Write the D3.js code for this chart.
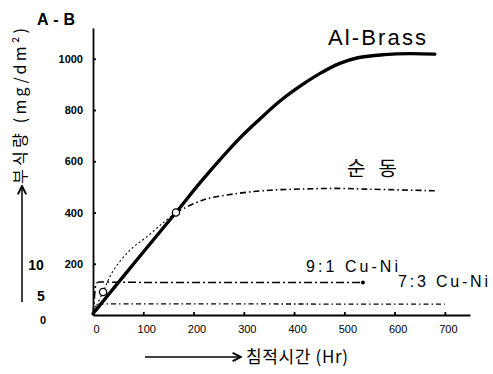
<!DOCTYPE html>
<html><head><meta charset="utf-8">
<script src="https://cdn.jsdelivr.net/npm/d3@7"></script>
<style>body{margin:0;background:#fff}svg{display:block}</style>
</head><body>
<script>
// ---- data ----
const xTicks = [0,100,200,300,400,500,600,700];
const yTicks = [200,400,600,800,1000];
const y2Ticks = [0,5,10];
// Al-Brass: [hours, mg/dm2]
const alBrass = [[0,5],[14,39],[83,205],[165,400],[219,530],[292,690],[332,765],[372,835],[412,893],[451,942],[491,982],[527,1004],[580,1016],[630,1020],[680,1018]];
// 순동 (pure copper): [hours, mg/dm2]
const pureCu = [[0,5],[20,90],[40,172],[74,254],[107,305],[139,359],[165,400],[219,449],[286,474],[352,487],[420,492],[485,494],[551,491],[680,485]];
// Cu-Ni alloys on the secondary scale (0-10)
const cuNi91 = [[0,0],[3,4.6],[6,6.8],[12,7.1],[60,7.05],[300,7.0],[537,7.0]];
const cuNi73 = [[0,0],[5,2.0],[14,2.75],[100,2.8],[400,2.75],[700,2.7]];
const markers = [[20,90],[165,400]];

const W=493,H=374;
const svg=d3.select("body").append("svg").attr("width",W).attr("height",H);
const x=d3.scaleLinear().domain([0,750]).range([93,470]);
const y=d3.scaleLinear().domain([0,1120]).range([315,28]);
const y2=d3.scaleLinear().domain([0,5,10]).range([315,295,264]);
const numFont="'Liberation Sans', Arial, sans-serif";
const krFont="'Noto Sans CJK KR', sans-serif";

// axes
const gx=svg.append("g").attr("transform","translate(0,315)")
  .call(d3.axisBottom(x).tickValues(xTicks).tickFormat(d3.format("d")).tickSizeInner(-3).tickSizeOuter(0).tickPadding(10));
gx.selectAll("text").attr("font-family",numFont).attr("font-size",11).attr("dx",3);
const gy=svg.append("g").attr("transform","translate(93,0)")
  .call(d3.axisLeft(y).tickValues(yTicks).tickFormat(d3.format("d")).tickSizeInner(-3).tickSizeOuter(0).tickPadding(10));
gy.selectAll("text").attr("font-family",numFont).attr("font-size",11).attr("font-weight","bold");
svg.selectAll(".domain").attr("stroke","#000").attr("stroke-width",1.8);
svg.selectAll(".tick line").attr("stroke","#000").attr("stroke-width",1.8);

// secondary scale labels
svg.append("g").selectAll("text").data(y2Ticks).join("text")
  .attr("x",d=>d===10?36:(d===5?41:43)).attr("y",d=>y2(d)+(d===0?5:1))
  .attr("text-anchor","middle").attr("dominant-baseline","central")
  .attr("font-family",numFont).attr("font-weight","bold")
  .attr("font-size",d=>d===0?11:14).text(d=>d);

// lines
const line=d3.line().x(d=>x(d[0])).y(d=>y(d[1])).curve(d3.curveCatmullRom.alpha(0.5));
const line2=d3.line().x(d=>x(d[0])).y(d=>y2(d[1])).curve(d3.curveMonotoneX);
svg.append("path").attr("d",line(pureCu.filter(d=>d[0]<=165))).attr("fill","none")
  .attr("stroke","#000").attr("stroke-width",1.1).attr("stroke-dasharray","2,2.5");
svg.append("path").attr("d",line(pureCu.filter(d=>d[0]>=165))).attr("fill","none")
  .attr("stroke","#000").attr("stroke-width",1.6).attr("stroke-dasharray","6,3,1.5,3");
svg.append("path").attr("d",line2(cuNi91)).attr("fill","none")
  .attr("stroke","#000").attr("stroke-width",1.5).attr("stroke-dasharray","8,3,2,3");
svg.append("path").attr("d",line2(cuNi73)).attr("fill","none")
  .attr("stroke","#000").attr("stroke-width",1.3).attr("stroke-dasharray","5,3,1.5,3");
svg.append("path").attr("d",line(alBrass)).attr("fill","none")
  .attr("stroke","#000").attr("stroke-width",3.4).attr("stroke-linecap","round");
// end dot of 9:1
const last91=cuNi91[cuNi91.length-1];
svg.append("circle").attr("cx",x(last91[0])).attr("cy",y2(last91[1])).attr("r",2).attr("fill","#000");
// open circle markers
svg.selectAll("circle.m").data(markers).join("circle").attr("class","m")
  .attr("cx",d=>x(d[0])).attr("cy",d=>y(d[1])).attr("r",3.6)
  .attr("fill","#fff").attr("stroke","#000").attr("stroke-width",1.3);

// labels
svg.append("text").attr("x",328).attr("y",45).attr("font-family",numFont).attr("font-size",22)
  .attr("textLength",98).text("Al-Brass");
svg.append("text").attr("x",347).attr("y",176).attr("font-family",krFont).attr("font-size",20)
  .attr("textLength",50).text("순 동");
svg.append("text").attr("x",306).attr("y",272).attr("font-family",numFont).attr("font-size",16)
  .attr("textLength",92).text("9:1 Cu-Ni");
svg.append("text").attr("x",398).attr("y",287).attr("font-family",numFont).attr("font-size",16)
  .attr("textLength",90).text("7:3 Cu-Ni");
svg.append("text").attr("x",37).attr("y",25).attr("font-family",numFont).attr("font-size",16)
  .attr("font-weight","bold").attr("textLength",38).text("A-B");

// axis titles with arrows
const defs=svg.append("defs");
defs.append("marker").attr("id","ah").attr("viewBox","0 0 10 10").attr("refX",9).attr("refY",5)
  .attr("markerWidth",7).attr("markerHeight",7).attr("orient","auto")
  .append("path").attr("d","M1,1 L9,5 L1,9").attr("fill","none").attr("stroke","#000").attr("stroke-width",1.8);
svg.append("line").attr("x1",145).attr("x2",241).attr("y1",357).attr("y2",357)
  .attr("stroke","#000").attr("stroke-width",1.5).attr("marker-end","url(#ah)");
svg.append("text").attr("x",246).attr("y",363).attr("font-family",krFont).attr("font-size",17)
  .attr("textLength",102).text("침적시간 (Hr)");
svg.append("line").attr("x1",22).attr("x2",22).attr("y1",302).attr("y2",186)
  .attr("stroke","#000").attr("stroke-width",1.5).attr("marker-end","url(#ah)");
svg.append("text").attr("transform","translate(26,106) rotate(-90)").attr("text-anchor","middle")
  .attr("font-family",krFont).attr("font-size",16).attr("textLength",156).text("부식량 (mg/dm²)");
</script>
</body></html>
